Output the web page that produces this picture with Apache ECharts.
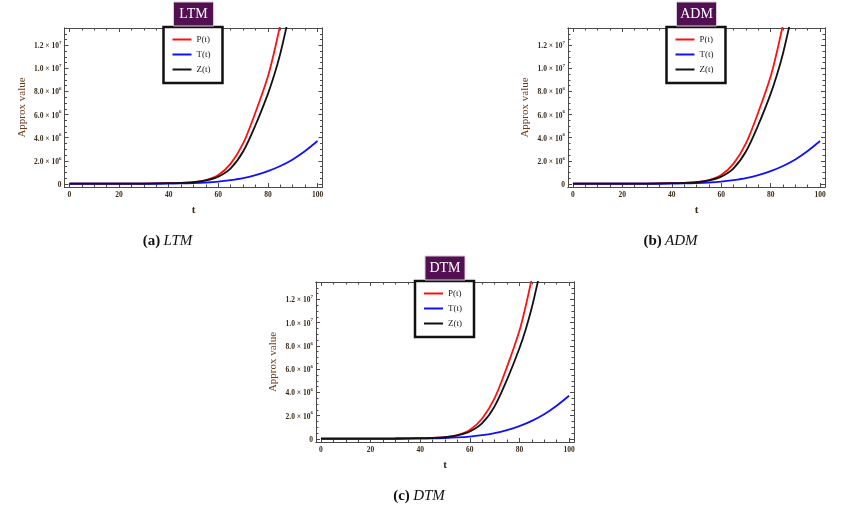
<!DOCTYPE html>
<html>
<head>
  <meta charset="utf-8">
  <title>LTM / ADM / DTM</title>
  <script src="https://cdn.jsdelivr.net/npm/echarts@6.0.0/dist/echarts.min.js"></script>
  <style>
    html, body { margin: 0; padding: 0; background: #fff; }
    #graph { width: 866px; height: 508px; }
  </style>
</head>
<body>
  <div id="graph"></div>

  <script>
    // values, in units of 1e6
    var tP = [0, 10, 20, 30, 40, 45, 50, 55, 60, 65, 70, 75, 80, 82.5, 85];
    var pVals = [0.02, 0.02, 0.02, 0.03, 0.06, 0.08, 0.15, 0.33, 0.76, 1.75, 3.5, 6.2, 9.3, 11.4, 13.8];

    var tZ = [0, 10, 20, 30, 40, 45, 50, 55, 60, 65, 70, 75, 80, 82.5, 85, 87.5];
    var zVals = [0.02, 0.02, 0.02, 0.03, 0.06, 0.08, 0.14, 0.3, 0.63, 1.35, 2.8, 5.1, 7.8, 9.4, 11.3, 13.6];

    var tT = [0, 10, 20, 30, 40, 45, 50, 55, 60, 65, 70, 75, 80, 85, 90, 95, 100];
    var tValsT = [0.01, 0.01, 0.01, 0.01, 0.02, 0.04, 0.07, 0.12, 0.2, 0.33, 0.5, 0.76, 1.1, 1.55, 2.12, 2.85, 3.71];

    var methods = ['LTM', 'ADM', 'DTM'];
    var tags = ['(a)', '(b)', '(c)'];
    var seriesNames = ['P(t)', 'T(t)', 'Z(t)'];

    var xMajor = [0, 20, 40, 60, 80, 100];
    var xMinor = [5, 10, 15, 25, 30, 35, 45, 50, 55, 65, 70, 75, 85, 90, 95];
    var yMajor = [0, 2e6, 4e6, 6e6, 8e6, 1e7, 1.2e7];
    var yMinor = [5e5, 1e6, 1.5e6, 2.5e6, 3e6, 3.5e6, 4.5e6, 5e6, 5.5e6, 6.5e6, 7e6, 7.5e6,
                  8.5e6, 9e6, 9.5e6, 1.05e7, 1.1e7, 1.15e7, 1.25e7, 1.3e7, 1.35e7];

    // 布局
    var boxes = [
      { left: 64.5, top: 28, width: 258, height: 159 },
      { left: 568, top: 28, width: 257, height: 159 },
      { left: 316, top: 282, width: 258, height: 160 }
    ];

    var frameColor = '#4a4a4a';
    var tickText = '#3a2a18';
    var serif = '"Liberation Serif", "DejaVu Serif", serif';
    var colors = ['#ff1010', '#1010ff', '#111111'];

    function pairs(ts, vs) {
      return ts.map(function (t, i) { return [t, vs[i] * 1e6]; });
    }

    function sciLabel(v) {
      if (v === 0) return '{m|0}';
      var e = Math.floor(Math.log10(v) + 1e-9);
      var m = (v / Math.pow(10, e)).toFixed(1);
      return '{m|' + m + ' \u00d7 10}{s|' + e + '}';
    }

    function xAxes(g) {
      var base = {
        gridIndex: g, type: 'value', min: -2, max: 102,
        splitLine: { show: false },
        axisLine: { show: true, onZero: false, lineStyle: { color: frameColor, width: 1 } },
        axisLabel: { show: false }
      };
      return [
        Object.assign({}, base, {
          position: 'bottom', name: 't', nameLocation: 'middle', nameGap: 18,
          nameTextStyle: { fontFamily: serif, fontSize: 11, fontWeight: 'bold', color: '#3a2a18' },
          axisTick: { show: true, inside: true, length: 4, customValues: xMajor, lineStyle: { color: frameColor } },
          axisLabel: {
            show: true, customValues: xMajor, margin: 4,
            fontFamily: serif, fontSize: 7.5, fontWeight: 'bold', color: tickText
          }
        }),
        Object.assign({}, base, {
          position: 'bottom',
          axisTick: { show: true, inside: true, length: 2.5, customValues: xMinor, lineStyle: { color: frameColor } }
        }),
        Object.assign({}, base, {
          position: 'top',
          axisTick: { show: true, inside: true, length: 4, customValues: xMajor, lineStyle: { color: frameColor } }
        }),
        Object.assign({}, base, {
          position: 'top',
          axisTick: { show: true, inside: true, length: 2.5, customValues: xMinor, lineStyle: { color: frameColor } }
        })
      ];
    }

    function yAxes(g) {
      var base = {
        gridIndex: g, type: 'value', min: -2.7e5, max: 1.35e7,
        splitLine: { show: false },
        axisLine: { show: true, onZero: false, lineStyle: { color: frameColor, width: 1 } },
        axisLabel: { show: false }
      };
      return [
        Object.assign({}, base, {
          position: 'left', name: 'Approx value', nameLocation: 'middle', nameGap: 37,
          nameTextStyle: { fontFamily: serif, fontSize: 11, color: '#6b3a1c' },
          axisTick: { show: true, inside: true, length: 4, customValues: yMajor, lineStyle: { color: frameColor } },
          axisLabel: {
            show: true, customValues: yMajor, margin: 3,
            formatter: sciLabel,
            rich: {
              m: { fontFamily: serif, fontSize: 7.5, fontWeight: 'bold', color: tickText, lineHeight: 10, verticalAlign: 'bottom' },
              s: { fontFamily: serif, fontSize: 5, fontWeight: 'bold', color: tickText, lineHeight: 10, verticalAlign: 'top' }
            }
          }
        }),
        Object.assign({}, base, {
          position: 'left',
          axisTick: { show: true, inside: true, length: 2.5, customValues: yMinor, lineStyle: { color: frameColor } }
        }),
        Object.assign({}, base, {
          position: 'right',
          axisTick: { show: true, inside: true, length: 4, customValues: yMajor, lineStyle: { color: frameColor } }
        }),
        Object.assign({}, base, {
          position: 'right',
          axisTick: { show: true, inside: true, length: 2.5, customValues: yMinor, lineStyle: { color: frameColor } }
        })
      ];
    }

    var myChart = echarts.init(document.getElementById('graph'), null, { renderer: 'canvas' });

    var grids = [], xs = [], ys = [], series = [], legends = [], graphics = [];
    var dataSets = [pairs(tP, pVals), pairs(tT, tValsT), pairs(tZ, zVals)];

    boxes.forEach(function (b, g) {
      grids.push({ left: b.left, top: b.top, width: b.width, height: b.height, containLabel: false });
      xs = xs.concat(xAxes(g));
      ys = ys.concat(yAxes(g));

      seriesNames.forEach(function (name, k) {
        series.push({
          name: name, type: 'line',
          xAxisIndex: g * 4, yAxisIndex: g * 4,
          data: dataSets[k],
          symbol: 'none', smooth: 0.3,
          clip: true,
          lineStyle: { color: colors[k], width: 1.8 },
          itemStyle: { color: colors[k] }
        });
      });

      var cx = b.left + b.width / 2;

      legends.push({
        orient: 'vertical', left: cx - 30, top: b.top - 1,
        data: seriesNames, selectedMode: false,
        icon: 'path://M0,0H19V2H0Z', symbolKeepAspect: true,
        itemWidth: 19, itemHeight: 8, itemGap: 6,
        padding: [8, 12, 9, 9],
        backgroundColor: '#fff', borderColor: '#111', borderWidth: 2.5,
        textStyle: { fontFamily: serif, fontSize: 9, color: '#222' }
      });

      // 标题框
      graphics.push({
        type: 'rect', z: 100,
        shape: { x: cx - 20, y: b.top - 26, width: 40, height: 24 },
        style: { fill: '#521052', stroke: '#d6cdd6', lineWidth: 1 }
      });
      graphics.push({
        type: 'text', z: 101, x: cx, y: b.top - 14,
        style: {
          text: methods[g], fill: '#fff', font: '14px ' + serif,
          textAlign: 'center', textVerticalAlign: 'middle'
        }
      });
      // 图注
      graphics.push({
        type: 'text', z: 101, x: cx - 26, y: b.top + b.height + 54,
        style: {
          text: '{b|' + tags[g] + '} {i|' + methods[g] + '}',
          textAlign: 'center', textVerticalAlign: 'middle',
          rich: {
            b: { fontFamily: serif, fontSize: 15, fontWeight: 'bold', fill: '#111', color: '#111' },
            i: { fontFamily: serif, fontSize: 15, fontStyle: 'italic', fill: '#111', color: '#111' }
          }
        }
      });
    });

    var option = {
      animation: false,
      backgroundColor: '#fff',
      grid: grids,
      xAxis: xs,
      yAxis: ys,
      legend: legends,
      series: series,
      graphic: graphics
    };

    myChart.setOption(option);
  </script>
</body>
</html>
